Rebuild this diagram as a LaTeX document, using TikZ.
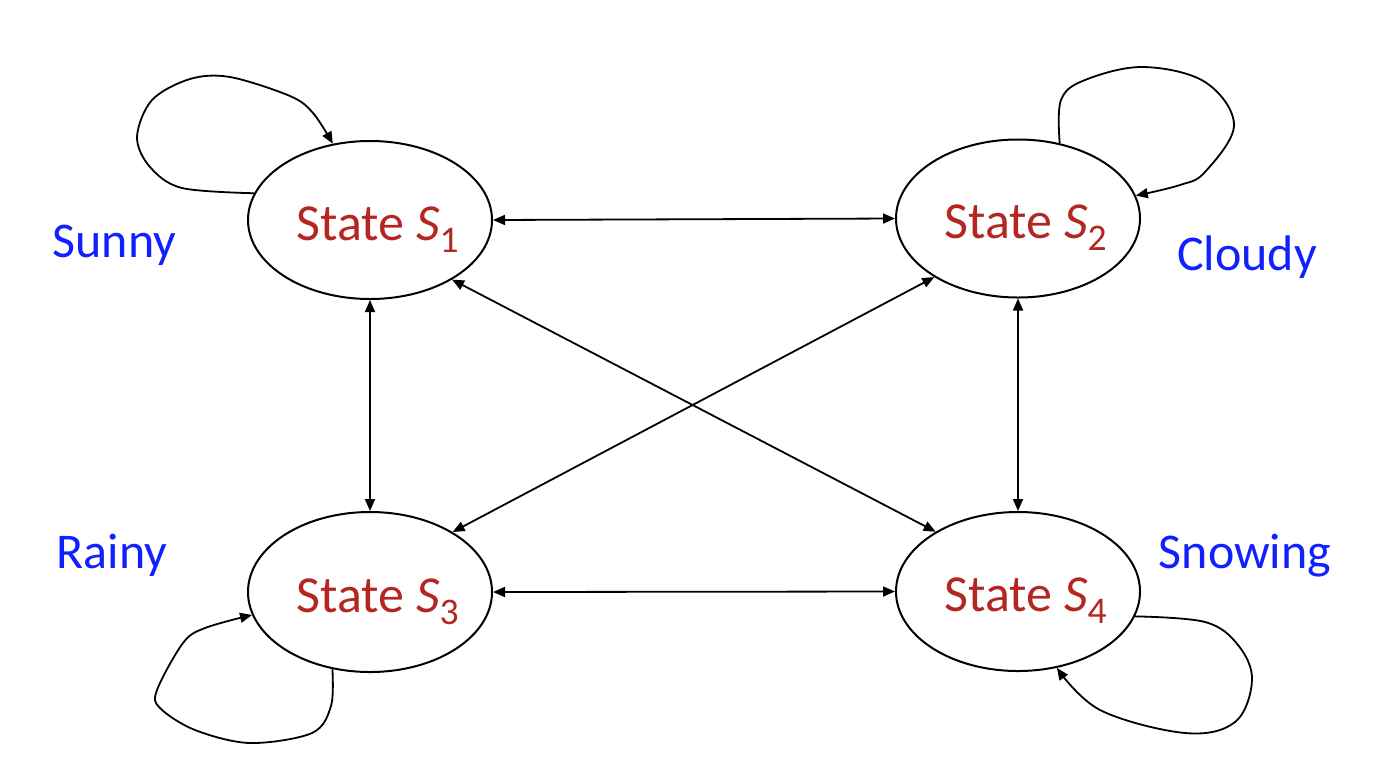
\documentclass[tikz,border=0pt]{standalone}
\usepackage{fontspec}
\setmainfont{Carlito}
\usetikzlibrary{arrows.meta,shapes.geometric}
\definecolor{statered}{RGB}{180,38,34}
\definecolor{labelblue}{RGB}{16,32,255}
\newcommand{\statetxt}[1]{\raisebox{-10pt}[0pt][0pt]{\makebox[0pt]{\hspace{7.5pt}State \textit{S}\raisebox{-6pt}{\fontsize{18.8}{20}\selectfont #1}}}}
\tikzset{
  statenode/.style={draw=black, line width=1pt, ellipse, minimum width=122pt, minimum height=79pt, inner sep=0pt, text=statered, font=\fontsize{26}{30}\selectfont},
  wlabel/.style={text=labelblue, font=\fontsize{25}{30}\selectfont, anchor=base, inner sep=0pt},
  conn/.style={line width=0.9pt, {Triangle[length=6pt,width=5pt]}-{Triangle[length=6pt,width=5pt]}},
  loopconn/.style={line width=0.9pt, -{Triangle[length=6pt,width=5pt]}},
}
\begin{document}
\begin{tikzpicture}[x=0.5pt,y=-0.5pt]
\useasboundingbox (0,0) rectangle (1400,756);
\node[statenode] (S1) at (370,220) {\statetxt{1}};
\node[statenode] (S2) at (1018,218.5) {\statetxt{2}};
\node[statenode, minimum height=80pt] (S3) at (370,592) {\statetxt{3}};
\node[statenode, minimum height=79.5pt] (S4) at (1018,591.5) {\statetxt{4}};

\node[wlabel] (sunny) at (114.5,257) {Sunny};
\node[wlabel] (cloudy) at (1247,270) {Cloudy};
\node[wlabel] (rainy) at (112,568) {Rainy};
\node[wlabel] (snowing) at (1245,568) {Snowing};

\draw[conn] (S1.east) -- (S2.west);
\draw[conn] (S3.east) -- (S4.west);
\draw[conn] (S1.south) -- (S3.north);
\draw[conn] (S2.south) -- (S4.north);
\draw[conn] (S1.-36) -- (S4.144);
\draw[conn] (S2.215) -- (S3.36);

\draw[loopconn] plot[smooth, tension=0.55] coordinates {(S1.167) (182,188) (150,167) (137,137) (152,100) (190,79) (230,77) (290,96) (313,113) (S1.116)};
\draw[loopconn] plot[smooth, tension=0.6] coordinates {(S2.61) (1061,100) (1085,80) (1143,67) (1205,82) (1234,125) (1205,172) (1180,185) (S2.11)};
\draw[loopconn] plot[smooth, tension=0.55] coordinates {(S3.244) (331,706) (312,733) (250,743) (195,730) (160,708) (157,690) (183,643) (205,628) (S3.191)};
\draw[loopconn] plot[smooth, tension=0.6] coordinates {(S4.-12) (1205,622) (1238,645) (1252,680) (1235,722) (1185,733) (1100,710) (S4.-63)};
\end{tikzpicture}
\end{document}
